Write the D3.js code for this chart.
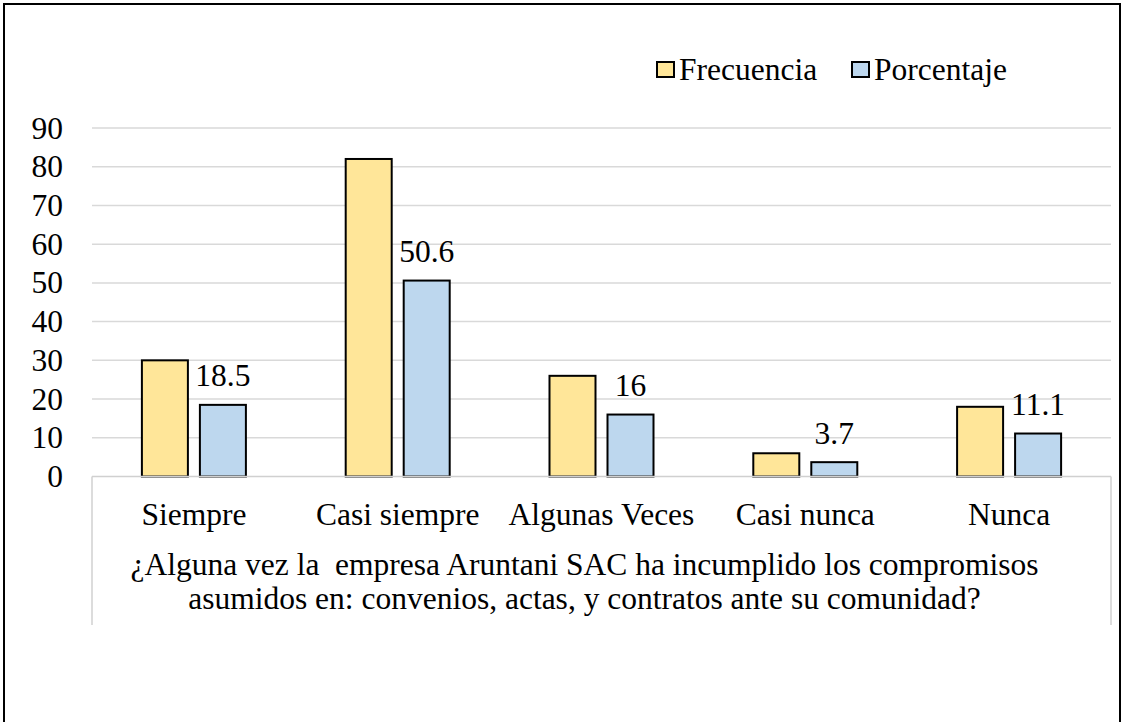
<!DOCTYPE html>
<html>
<head>
<meta charset="utf-8">
<script src="https://cdn.jsdelivr.net/npm/d3@7"></script>
<style>
  body { margin: 0; background: #fff; }
  svg text { font-family: "Liberation Serif", "Times New Roman", serif; fill: #000; }
</style>
</head>
<body>
<svg id="chart" width="1124" height="722"></svg>
<script>
// data
var categories = ['Siempre', 'Casi siempre', 'Algunas Veces', 'Casi nunca', 'Nunca'];
var seriesNames = ['Frecuencia', 'Porcentaje'];
var frecuencia = [30, 82, 26, 6, 18];
var porcentaje = [18.5, 50.6, 16, 3.7, 11.1];
var yTicks = [0, 10, 20, 30, 40, 50, 60, 70, 80, 90];
var titleLines = ['¿Alguna vez la\u00a0 empresa Aruntani SAC ha incumplido los compromisos',
    'asumidos en: convenios, actas, y contratos ante su comunidad?'];

(function () {
    var colors = { Frecuencia: '#FFE699', Porcentaje: '#BDD7EE' };
    var fontSize = 31.5;

    var svg = d3.select('#chart');
    var plotL = 92, plotR = 1111, plotT = 128, plotB = 476.5;

    // outer border
    svg.append('rect')
        .attr('x', 4).attr('y', 4)
        .attr('width', 1116).attr('height', 760)
        .attr('fill', 'none').attr('stroke', '#000').attr('stroke-width', 2);

    var x0 = d3.scaleBand().domain(categories).range([plotL, plotR]);
    var groupW = 104;
    var x1 = d3.scaleBand().domain(seriesNames).range([0, groupW]).paddingInner(12 / 58);
    var y = d3.scaleLinear().domain([0, 90]).range([plotB, plotT]);

    // gridlines
    svg.append('g').selectAll('line').data(yTicks.slice(1)).enter().append('line')
        .attr('x1', plotL).attr('x2', plotR)
        .attr('y1', function (d) { return y(d); })
        .attr('y2', function (d) { return y(d); })
        .attr('stroke', '#d9d9d9').attr('stroke-width', 1.5);

    // y axis labels
    svg.append('g').selectAll('text').data(yTicks).enter().append('text')
        .attr('x', 63)
        .attr('y', function (d) { return y(d) + 10.5; })
        .attr('text-anchor', 'end')
        .style('font-size', fontSize + 'px')
        .text(function (d) { return d; });

    // bars
    var rows = categories.map(function (c, i) {
        return { cat: c, values: [
            { name: 'Frecuencia', value: frecuencia[i] },
            { name: 'Porcentaje', value: porcentaje[i] }
        ] };
    });
    var groups = svg.append('g').selectAll('g').data(rows).enter().append('g')
        .attr('transform', function (d) {
            return 'translate(' + (x0(d.cat) + (x0.bandwidth() - groupW) / 2) + ',0)';
        });
    groups.selectAll('rect').data(function (d) { return d.values; }).enter().append('rect')
        .attr('x', function (d) { return x1(d.name); })
        .attr('y', function (d) { return y(d.value); })
        .attr('width', x1.bandwidth())
        .attr('height', function (d) { return plotB - y(d.value); })
        .attr('fill', function (d) { return colors[d.name]; })
        .attr('stroke', '#000').attr('stroke-width', 2);

    // data labels (porcentaje only)
    groups.append('text')
        .attr('x', x1('Porcentaje') + x1.bandwidth() / 2)
        .attr('y', function (d) { return y(d.values[1].value) - 18.5; })
        .attr('text-anchor', 'middle')
        .style('font-size', fontSize + 'px')
        .text(function (d) { return d.values[1].value; });

    // category axis frame
    var frame = svg.append('g').attr('stroke', '#d0d0d0').attr('stroke-width', 1.5);
    frame.append('line').attr('x1', plotL).attr('x2', plotR).attr('y1', plotB).attr('y2', plotB);
    frame.append('line').attr('x1', plotL).attr('x2', plotL).attr('y1', plotB).attr('y2', 625);
    frame.append('line').attr('x1', plotR).attr('x2', plotR).attr('y1', plotB).attr('y2', 625);

    // category labels
    svg.append('g').selectAll('text').data(categories).enter().append('text')
        .attr('x', function (d) { return x0(d) + x0.bandwidth() / 2; })
        .attr('y', 524.5)
        .attr('text-anchor', 'middle')
        .style('font-size', fontSize + 'px')
        .text(function (d) { return d; });

    // axis title
    svg.append('g').selectAll('text').data(titleLines).enter().append('text')
        .attr('x', 584.5)
        .attr('y', function (d, i) { return 575 + i * 33.5; })
        .attr('text-anchor', 'middle')
        .style('font-size', fontSize + 'px')
        .text(function (d) { return d; });

    // legend
    var legendX = [657, 852];
    var legend = svg.append('g').selectAll('g').data(seriesNames).enter().append('g')
        .attr('transform', function (d, i) { return 'translate(' + legendX[i] + ',0)'; });
    legend.append('rect')
        .attr('x', 0).attr('y', 62).attr('width', 17).attr('height', 15)
        .attr('fill', function (d) { return colors[d]; })
        .attr('stroke', '#000').attr('stroke-width', 2);
    legend.append('text')
        .attr('x', 22).attr('y', 79.5)
        .style('font-size', fontSize + 'px')
        .text(function (d) { return d; });
})();
</script>
</body>
</html>
